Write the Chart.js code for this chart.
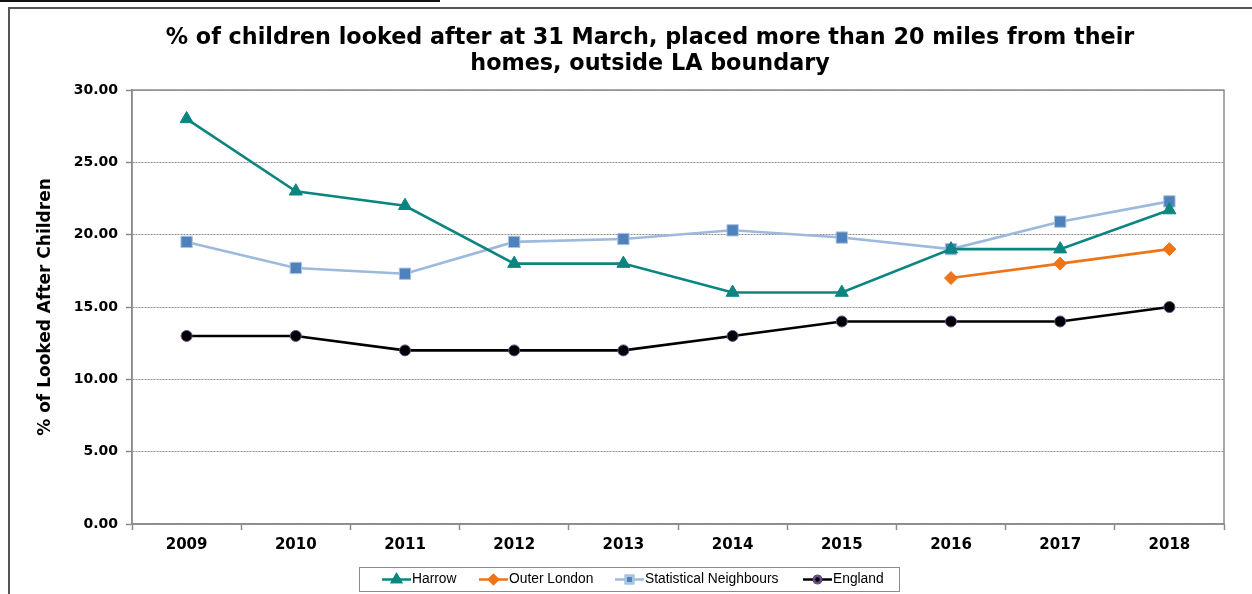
<!DOCTYPE html>
<html>
<head>
<meta charset="utf-8">
<script src="https://cdn.jsdelivr.net/npm/chart.js@4.4.1/dist/chart.umd.min.js"></script>
<style>
html,body{margin:0;padding:0;background:#fff;}
#wrap{position:relative;width:1252px;height:594px;}
canvas{display:block;}
</style>
</head>
<body>
<div id="wrap"><canvas id="c" width="1252" height="594"></canvas></div>
<script>
const categories = ['2009','2010','2011','2012','2013','2014','2015','2016','2017','2018'];
const harrow = [28, 23, 22, 18, 18, 16, 16, 19, 19, 21.7];
const outerLondon = [null, null, null, null, null, null, null, 17, 18, 19];
const statNeighbours = [19.5, 17.7, 17.3, 19.5, 19.7, 20.3, 19.8, 19.0, 20.9, 22.3];
const england = [13, 13, 12, 12, 12, 13, 14, 14, 14, 15];
const yTicks = [0, 5, 10, 15, 20, 25, 30];
const titleLines = ['% of children looked after at 31 March, placed more than 20 miles from their', 'homes, outside LA boundary'];
const yTitle = '% of Looked After Children';

const seriesNames = ['Harrow', 'Outer London', 'Statistical Neighbours', 'England'];

const frame = {
  id: 'frame',
  beforeDraw(chart) {
    const ctx = chart.ctx;
    ctx.save();
    ctx.fillStyle = '#fff';
    ctx.fillRect(0, 0, chart.width, chart.height);
    // top black rule
    ctx.fillStyle = '#111';
    ctx.fillRect(0, 0, 440, 2);
    // outer frame
    ctx.strokeStyle = '#555';
    ctx.lineWidth = 2;
    ctx.beginPath();
    ctx.moveTo(9, 594);
    ctx.lineTo(9, 8);
    ctx.lineTo(1252, 8);
    ctx.stroke();
    // title
    ctx.fillStyle = '#000';
    ctx.font = 'bold 22.3px "DejaVu Sans", Verdana, sans-serif';
    ctx.textAlign = 'center';
    ctx.textBaseline = 'middle';
    ctx.fillText(titleLines[0], 650, 38);
    ctx.fillText(titleLines[1], 650, 64);
    ctx.restore();
  },
  beforeDatasetsDraw(chart) {
    const {ctx, chartArea: a} = chart;
    ctx.save();
    ctx.strokeStyle = '#8c8c8c';
    ctx.lineWidth = 1.5;
    ctx.strokeRect(a.left, a.top, a.right - a.left, a.bottom - a.top);
    ctx.restore();
  },
  afterDraw(chart) {
    const ctx = chart.ctx;
    ctx.save();
    // legend box
    const bx = 359, by = 567, bw = 540, bh = 24;
    ctx.strokeStyle = '#8c8c8c';
    ctx.lineWidth = 1;
    ctx.strokeRect(bx + 0.5, by + 0.5, bw, bh);
    const lineStarts = [382, 479, 615, 803];
    const cy = by + bh / 2 + 0.5;
    ctx.font = '13.8px "Liberation Sans", Arial, sans-serif';
    ctx.textBaseline = 'middle';
    chart.data.datasets.forEach((ds, i) => {
      const x0 = lineStarts[i], x1 = x0 + 29;
      ctx.strokeStyle = ds.borderColor;
      ctx.lineWidth = 2.5;
      ctx.beginPath();
      ctx.moveTo(x0, cy); ctx.lineTo(x1, cy); ctx.stroke();
      Chart.helpers.drawPoint(ctx, {
        pointStyle: ds.pointStyle,
        radius: ds.pointRadius * 0.65,
        borderWidth: 1,
        rotation: 0
      }, (x0 + x1) / 2, cy);
      ctx.fillStyle = ds.pointBackgroundColor;
      ctx.strokeStyle = ds.pointBorderColor;
      ctx.fill();
      ctx.stroke();
      ctx.fillStyle = '#000';
      ctx.textAlign = 'left';
      ctx.fillText(ds.label, x1 + 1, cy);
    });
    ctx.restore();
  }
};

new Chart(document.getElementById('c'), {
  type: 'line',
  data: {
    labels: categories,
    datasets: [
      {
        label: seriesNames[0], data: harrow,
        borderColor: '#0A8580', borderWidth: 2.6,
        pointStyle: 'triangle', pointRadius: 7.5,
        pointBackgroundColor: '#0A8580', pointBorderColor: '#0A8580', pointBorderWidth: 1,
        tension: 0
      },
      {
        label: seriesNames[1], data: outerLondon,
        borderColor: '#EE7418', borderWidth: 2.6,
        pointStyle: 'rectRot', pointRadius: 6.5,
        pointBackgroundColor: '#EE7418', pointBorderColor: '#EE7418', pointBorderWidth: 1,
        tension: 0
      },
      {
        label: seriesNames[2], data: statNeighbours,
        borderColor: '#9DB9DD', borderWidth: 2.6,
        pointStyle: 'rect', pointRadius: 8,
        pointBackgroundColor: '#4F81BD', pointBorderColor: '#A9C3E3', pointBorderWidth: 1,
        tension: 0
      },
      {
        label: seriesNames[3], data: england,
        borderColor: '#000000', borderWidth: 2.6,
        pointStyle: 'circle', pointRadius: 5.5,
        pointBackgroundColor: '#000000', pointBorderColor: '#6A4C8C', pointBorderWidth: 1,
        tension: 0
      }
    ]
  },
  options: {
    responsive: false,
    animation: false,
    devicePixelRatio: 1,
    layout: { padding: { left: 0, right: 28, top: 90, bottom: 0 } },
    plugins: {
      legend: { display: false },
      tooltip: { enabled: false },
      title: { display: false }
    },
    scales: {
      x: {
        type: 'category',
        offset: true,
        grid: { offset: true, drawOnChartArea: false, drawTicks: true, tickLength: 6, tickColor: '#8c8c8c', tickWidth: 1.5 },
        border: { display: true, color: '#8c8c8c', width: 1.5 },
        ticks: {
          color: '#000', padding: 6, maxRotation: 0,
          font: { family: '"DejaVu Sans", Verdana, sans-serif', size: 15, weight: 'bold' }
        },
        afterFit(scale) { scale.height = 70; }
      },
      y: {
        min: 0, max: 30,
        afterBuildTicks(scale) { scale.ticks = yTicks.map(v => ({ value: v })); },
        grid: { color: '#8a8a8a', lineWidth: 1, drawTicks: true, tickLength: 6, tickColor: '#8c8c8c', tickWidth: 1.5 },
        border: { display: true, color: '#8c8c8c', width: 1.5, dash: [2, 1] },
        ticks: {
          color: '#000', padding: 8,
          font: { family: '"DejaVu Sans", Verdana, sans-serif', size: 14, weight: 'bold' },
          callback: v => Number(v).toFixed(2)
        },
        title: {
          display: true, text: yTitle, color: '#000',
          font: { family: '"DejaVu Sans", Verdana, sans-serif', size: 17, weight: 'bold', lineHeight: 1.2 },
          padding: { top: 35, bottom: 0 }
        },
        afterFit(scale) { scale.width = 132; }
      }
    }
  },
  plugins: [frame]
});
</script>
</body>
</html>
